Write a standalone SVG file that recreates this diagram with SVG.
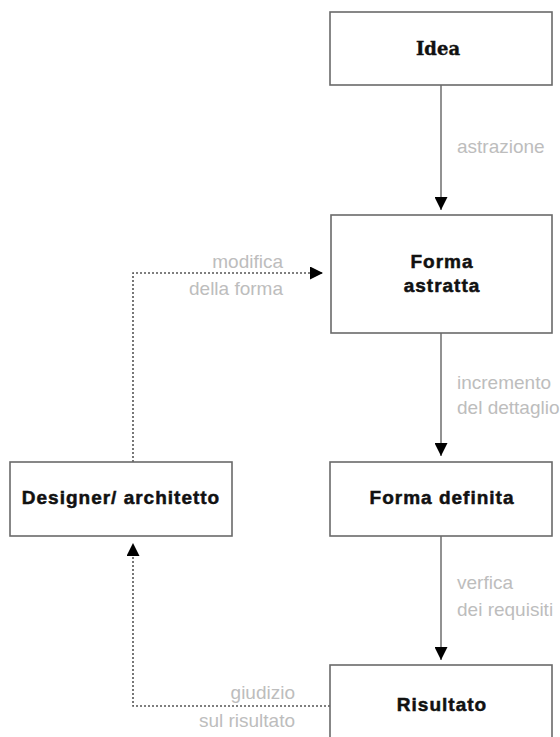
<svg xmlns="http://www.w3.org/2000/svg" width="560" height="737" viewBox="0 0 560 737">
  <style>
    .box { fill: #ffffff; stroke: #6a6a6a; stroke-width: 1.6; }
    .node-text { font-family: "Liberation Sans", Arial, sans-serif; font-weight: bold; font-size: 19px; letter-spacing: 1px; fill: #111; stroke: #111; stroke-width: 0.5; text-anchor: middle; }
    .idea-text { font-family: "DejaVu Serif", "Liberation Serif", serif; font-weight: bold; font-size: 18px; fill: #111; stroke: #111; stroke-width: 0.4; text-anchor: middle; }
    .flow { fill: none; stroke: #777; stroke-width: 1.6; }
    .loop { fill: none; stroke: #555; stroke-width: 1.6; stroke-dasharray: 2 2; }
    .label { font-family: "Liberation Sans", Arial, sans-serif; font-size: 19px; fill: #bdbdbd; }
    .right { text-anchor: end; }
  </style>
  <defs>
    <marker id="head" viewBox="0 0 10 10" refX="10" refY="5" markerWidth="13" markerHeight="13" markerUnits="userSpaceOnUse" orient="auto">
      <path d="M0,0 L10,5 L0,10 Z" fill="#000"/>
    </marker>
  </defs>

  <g id="connectors">
    <path class="flow" d="M441,85 V210" marker-end="url(#head)"/>
    <path class="flow" d="M441,333 V456" marker-end="url(#head)"/>
    <path class="flow" d="M441,536 V660" marker-end="url(#head)"/>
    <path class="loop" d="M133,462 V273 H323" marker-end="url(#head)"/>
    <path class="loop" d="M330,706 H133 V543" marker-end="url(#head)"/>
  </g>

  <g id="labels">
    <text class="label" x="457" y="153">astrazione</text>
    <text class="label" x="457" y="389">incremento</text>
    <text class="label" x="457" y="414">del dettaglio</text>
    <text class="label" x="457" y="589">verfica</text>
    <text class="label" x="457" y="616">dei requisiti</text>
    <text class="label right" x="283" y="268">modifica</text>
    <text class="label right" x="283" y="295">della forma</text>
    <text class="label right" x="295" y="699">giudizio</text>
    <text class="label right" x="295" y="727">sul risultato</text>
  </g>

  <g id="idea">
    <rect class="box" x="330" y="12" width="222" height="73"/>
    <text class="idea-text" x="438" y="55">Idea</text>
  </g>
  <g id="forma-astratta">
    <rect class="box" x="331" y="215" width="221" height="118"/>
    <text class="node-text" x="442" y="268">Forma</text>
    <text class="node-text" x="442" y="292">astratta</text>
  </g>
  <g id="forma-definita">
    <rect class="box" x="330" y="462" width="222" height="74"/>
    <text class="node-text" x="442" y="504">Forma definita</text>
  </g>
  <g id="designer">
    <rect class="box" x="10" y="462" width="222" height="74"/>
    <text class="node-text" x="121" y="504">Designer/ architetto</text>
  </g>
  <g id="risultato">
    <rect class="box" x="330" y="665" width="222" height="80"/>
    <text class="node-text" x="442" y="711">Risultato</text>
  </g>
</svg>
